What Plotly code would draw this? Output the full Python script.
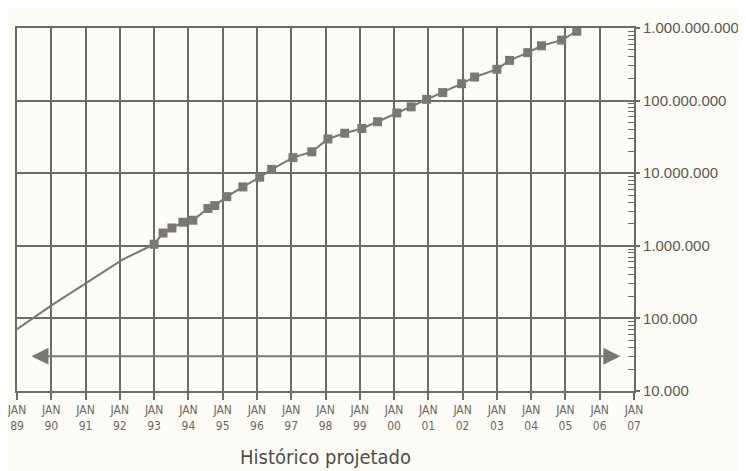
import math
import plotly.graph_objects as go

# ---- data ----
hist_years = [1989.0, 1990.05, 1991.07, 1991.8, 1992.09, 1993.0]
hist_values = [71000, 156000, 318000, 540000, 650000, 1050000]

proj_years = [1993.0, 1993.26, 1993.52, 1993.84, 1994.13, 1994.57, 1994.77, 1995.12,
              1995.59, 1996.08, 1996.43, 1997.05, 1997.6, 1998.07, 1998.56, 1999.06,
              1999.52, 2000.08, 2000.5, 2000.95, 2001.42, 2001.97, 2002.35, 2003.0,
              2003.37, 2003.9, 2004.3, 2004.89, 2005.33]
proj_values = [1.05e6, 1.5e6, 1.76e6, 2.11e6, 2.25e6, 3.27e6, 3.58e6, 4.75e6,
               6.47e6, 8.8e6, 11.3e6, 16.4e6, 19.7e6, 29.6e6, 35.5e6, 41.3e6,
               51.2e6, 67.6e6, 82e6, 104e6, 129e6, 171e6, 211e6, 270e6,
               358e6, 458e6, 569e6, 681e6, 902e6]

year_ticks = list(range(1989, 2008))
year_labels = ["JAN<br>%02d" % (y % 100) for y in year_ticks]
y_ticks = [1e4, 1e5, 1e6, 1e7, 1e8, 1e9]
y_labels = ["10.000", "100.000", "1.000.000", "10.000.000", "100.000.000", "1.000.000.000"]
minor_y_ticks = [m * 10 ** e for e in range(4, 9) for m in range(2, 10)]

arrow_level = 30000
arrow_span = [1989.38, 2006.6]

GRID = "#6e6b67"
LINE = "#7b7873"
BG = "#fdfcf7"
NARROW = "DejaVu Sans Condensed, Open Sans, sans-serif"

fig = go.Figure()
fig.add_trace(go.Scatter(x=hist_years, y=hist_values, mode="lines",
                         line=dict(color=LINE, width=2), showlegend=False))
fig.add_trace(go.Scatter(x=proj_years, y=proj_values, mode="lines+markers",
                         line=dict(color=LINE, width=2),
                         marker=dict(symbol="square", size=9, color=LINE),
                         showlegend=False))

fig.add_annotation(x=arrow_span[1], y=math.log10(arrow_level), ax=arrow_span[0],
                   ay=math.log10(arrow_level), xref="x", yref="y", axref="x", ayref="y",
                   text="", showarrow=True, arrowhead=2, arrowside="end+start",
                   arrowsize=1.7, arrowwidth=2, arrowcolor=LINE)

# page body has an 8px margin, so the figure is shifted by 8px
fig.update_layout(
    width=738, height=463,
    margin=dict(l=9, r=112, t=20, b=80),
    paper_bgcolor=BG, plot_bgcolor=BG,
    font=dict(family="Liberation Sans, Arial, sans-serif", color="#5a5854"),
)
fig.update_xaxes(range=[1989, 2007], tickvals=year_ticks, ticktext=year_labels,
                 automargin=False, ticklabeloverflow="allow",
                 showgrid=True, gridcolor=GRID, gridwidth=2,
                 showline=True, linecolor=GRID, linewidth=2, mirror=True,
                 ticks="outside", ticklen=7, tickwidth=2, tickcolor=GRID,
                 tickfont=dict(family=NARROW, size=12, color="#6a6864"),
                 zeroline=False,
                 title=dict(text="Histórico projetado", standoff=18,
                            font=dict(family=NARROW, size=20, color="#4f4d49")))
fig.update_yaxes(type="log", range=[4, 9], side="right", tickvals=y_ticks, ticktext=y_labels,
                 automargin=False, ticklabeloverflow="allow",
                 showgrid=True, gridcolor=GRID, gridwidth=2,
                 showline=True, linecolor=GRID, linewidth=2, mirror=True,
                 ticks="outside", ticklen=4, tickwidth=2, tickcolor=GRID,
                 tickfont=dict(family="Liberation Sans, Arial, sans-serif", size=15, color="#5a5854"),
                 minor=dict(tickmode="array", tickvals=minor_y_ticks, ticks="inside",
                            ticklen=6, tickcolor=GRID, tickwidth=1, showgrid=False),
                 zeroline=False)

fig.write_html("out.html")
